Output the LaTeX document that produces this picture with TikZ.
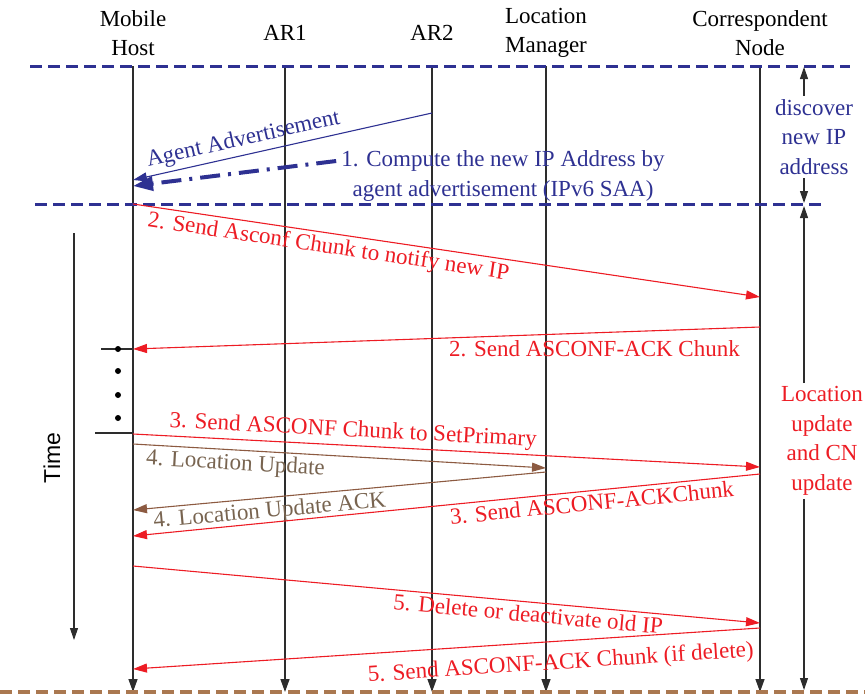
\documentclass[tikz,border=0pt]{standalone}
\usepackage{fontspec}
\setmainfont{Liberation Serif}
\setsansfont{Liberation Sans}
\usetikzlibrary{arrows.meta}

\definecolor{advblue}{RGB}{46,49,146}
\definecolor{msgred}{RGB}{237,28,36}
\definecolor{locbrown}{RGB}{140,90,65}
\definecolor{loctext}{RGB}{120,100,80}
\definecolor{endbrown}{RGB}{170,120,80}
\definecolor{lifegray}{RGB}{45,45,45}

\tikzset{
    lifeline/.style={lifegray, line width=1.4pt, -{Triangle[length=13pt,width=9pt]}},
    msg/.style={line width=1.1pt, -{Triangle[length=14pt,width=9pt]}},
    phase/.style={line width=3pt, dash pattern=on 12pt off 6pt},
    span/.style={lifegray, line width=1.1pt, -{Triangle[length=12pt,width=8pt]}},
}

\begin{document}
\begin{tikzpicture}[x=1pt, y=-1pt, font=\fontsize{23}{29.5}\selectfont]
    \useasboundingbox (0,0) rectangle (865,694);

    % --- 見出し ---
    \node[align=center] (mh) at (133,33) {Mobile\\Host};
    \node (ar1) at (285,33) {AR1};
    \node (ar2) at (432,33) {AR2};
    \node[align=center] (lm) at (546,33) {Location\\Manager};
    \node[align=center] (cn) at (760,33) {Correspondent\\Node};

    % --- ライフライン ---
    \foreach \who in {mh, ar1, ar2, lm, cn} {
        \draw[lifeline] (\who |- 0,66) -- (\who |- 0,692);
    }

    % --- 区切り線 ---
    \draw[phase, advblue] (30,66) -- (850,66);
    \draw[phase, advblue] (35,204) -- (823,204);
    \draw[phase, endbrown, line width=4pt] (0,692) -- (865,692);

    % --- 右側の説明 ---
    \node[advblue, align=center] (disc) at (814,137) {discover\\new IP\\address};
    \draw[span] (disc.north -| 804,0) -- (804,67);
    \draw[span] (disc.south -| 804,0) -- (804,203);
    \node[msgred, align=center] (upd) at (822,441) {Location\\update\\and CN\\update};
    \draw[span] (upd.north -| 804,0) -- (804,206);
    \draw[span] (upd.south -| 804,0) -- (804,690);

    % --- 時間軸 ---
    \draw[span] (74,233) -- (74,640);
    \node[rotate=90, font=\sffamily\fontsize{23}{28}\selectfont] (time) at (52,458) {Time};

    % --- 省略記号 ---
    \draw[lifegray, line width=1.2pt] (101,349) -- (mh |- 0,349);
    \foreach \y in {349, 371, 395, 418} {
        \fill (118,\y) circle (3pt);
    }
    \draw[lifegray, line width=1.2pt] (95,433) -- (mh |- 0,433);

    % --- アドレス取得 ---
    \draw[msg, advblue] (ar2 |- 0,113) -- (mh |- 0,180)
        node[sloped, above=3pt, pos=0.62, inner sep=1pt] {Agent Advertisement};
    \node[advblue, align=center, inner sep=1pt] (compute) at (503,176)
        {1. Compute the new IP Address by\\agent advertisement (IPv6 SAA)};
    \draw[advblue, line width=4pt, dash pattern=on 20pt off 8pt on 3pt off 8pt,
          -{Triangle[length=20pt,width=14pt]}] ([yshift=15pt,xshift=-4pt]compute.west) -- (mh |- 0,186);

    % --- メッセージ ---
    \draw[msg, msgred] (mh |- 0,204) -- (cn |- 0,297)
        node[sloped, below, pos=0.315] {2. Send Asconf Chunk to notify new IP};
    \draw[msg, msgred] (cn |- 0,327) -- (mh |- 0,349)
        node[below=4pt, pos=0.264] {2. Send ASCONF-ACK Chunk};
    \draw[msg, msgred] (mh |- 0,434) -- (cn |- 0,467)
        node[sloped, above, pos=0.35] {3. Send ASCONF Chunk to SetPrimary};
    \draw[msg, locbrown] (mh |- 0,444) -- (lm |- 0,468)
        node[sloped, below, pos=0.25, text=loctext] {4. Location Update};
    \draw[msg, locbrown] (lm |- 0,472) -- (mh |- 0,510)
        node[sloped, below, pos=0.672, text=loctext] {4. Location Update ACK};
    \draw[msg, msgred] (cn |- 0,474) -- (mh |- 0,536)
        node[sloped, below, pos=0.27] {3. Send ASCONF-ACKChunk};
    \draw[msg, msgred] (mh |- 0,566) -- (cn |- 0,623)
        node[sloped, below, pos=0.632] {5. Delete or deactivate old IP};
    \draw[msg, msgred] (cn |- 0,628) -- (mh |- 0,669)
        node[sloped, below=8pt, pos=0.32] {5. Send ASCONF-ACK Chunk (if delete)};

\end{tikzpicture}
\end{document}
